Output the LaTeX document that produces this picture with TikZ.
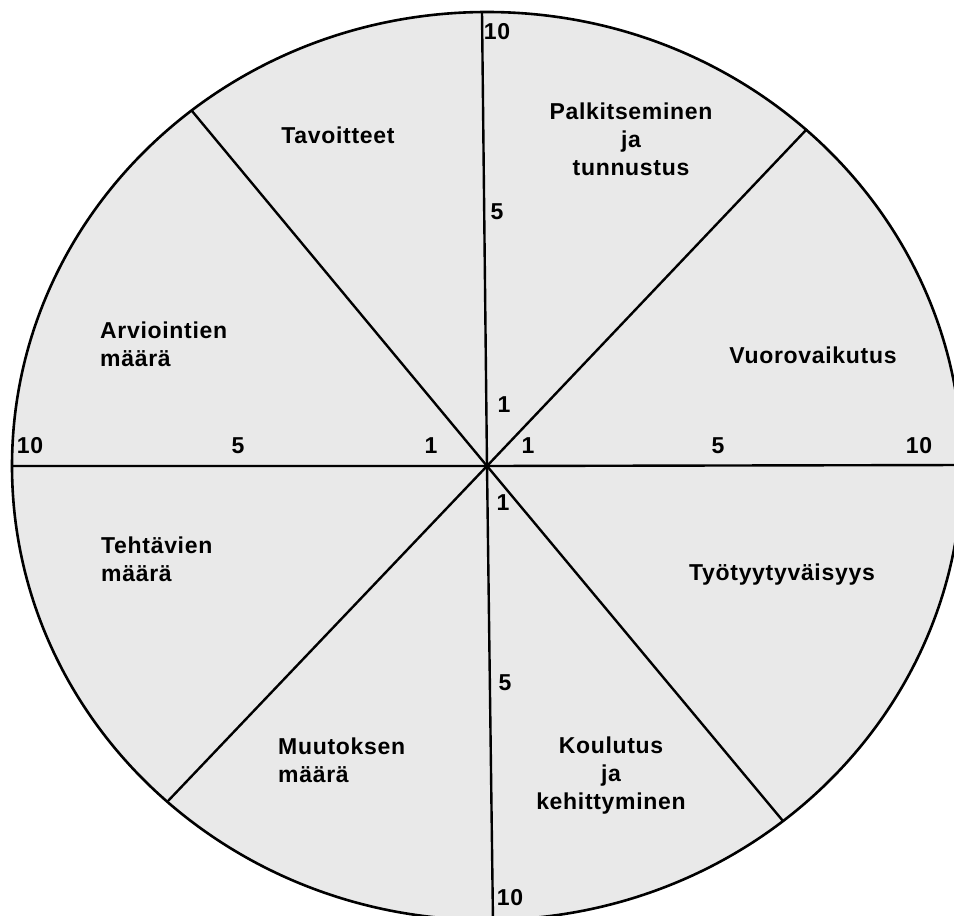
\documentclass[tikz,border=0pt]{standalone}
\usepackage{fontspec}
\setmainfont{Liberation Sans}[LetterSpace=3]
\definecolor{wheelfill}{gray}{0.915}
\begin{document}
\begin{tikzpicture}[x=1pt,y=-1pt,
  rim/.style={draw=black,line width=2.6pt,fill=wheelfill},
  spoke/.style={draw=black,line width=2.4pt},
  lbl/.style={inner sep=0pt,font=\fontsize{23}{28}\selectfont\bfseries},
  num/.style={inner sep=0pt,font=\fontsize{23}{28}\selectfont\bfseries,anchor=center}]
  \useasboundingbox (0,0) rectangle (954,916);
  \clip (0,0) rectangle (954,916);

  % wheel
  \coordinate (c) at (487,466);
  \path[rim] (c) ellipse [x radius=475, y radius=454];

  % spoke ends on the rim
  \coordinate (n) at (482,12);
  \coordinate (s) at (493,922);
  \coordinate (w) at (12,466);
  \coordinate (e) at (964,465);
  \coordinate (ne) at (807,129);
  \coordinate (sw) at (168,801);
  \coordinate (nw) at (192,111);
  \coordinate (se) at (783,821);

  \draw[spoke] (n) -- (c) -- (s);
  \draw[spoke] (w) -- (c) -- (e);
  \draw[spoke] (ne) -- (c) -- (sw);
  \draw[spoke] (nw) -- (c) -- (se);

  % scale numbers
  \node[num] (n10) at (497,32) {10};
  \node[num] (n5)  at (497,212) {5};
  \node[num] (n1)  at (504,405) {1};
  \node[num] (w1)  at (431,446) {1};
  \node[num] (w5)  at (238,446) {5};
  \node[num] (w10) at (30,446) {10};
  \node[num] (e1)  at (528,446) {1};
  \node[num] (e5)  at (718,446) {5};
  \node[num] (e10) at (919,446) {10};
  \node[num] (s1)  at (503,503) {1};
  \node[num] (s5)  at (505,683) {5};
  \node[num] (s10) at (510,898) {10};

  % sector labels
  \node[lbl,anchor=north] (tav) at (338,127) {Tavoitteet};
  \node[lbl,anchor=north,align=center] (pal) at (631,103) {Palkitseminen\\ja\\tunnustus};
  \node[lbl,anchor=north] (vuo) at (813,347) {Vuorovaikutus};
  \node[lbl,anchor=north] (tyo) at (782,564) {Työtyytyväisyys};
  \node[lbl,anchor=north,align=center] (kou) at (611,737) {Koulutus\\ja\\kehittyminen};
  \node[lbl,anchor=north west,align=left] (muu) at (278,738) {Muutoksen\\määrä};
  \node[lbl,anchor=north west,align=left] (teh) at (101,537) {Tehtävien\\määrä};
  \node[lbl,anchor=north west,align=left] (arv) at (100,322) {Arviointien\\määrä};
\end{tikzpicture}
\end{document}
